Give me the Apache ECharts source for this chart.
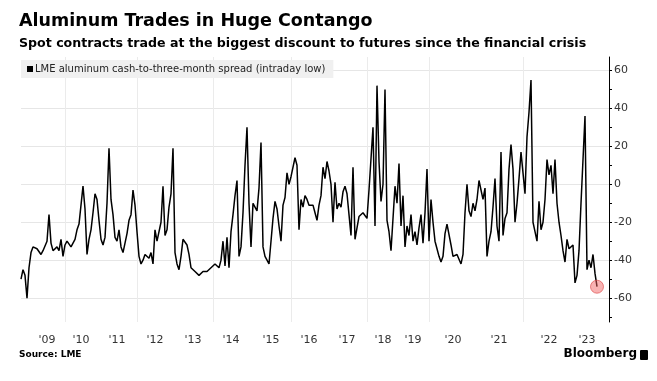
<!DOCTYPE html>
<html><head><meta charset="utf-8">
<script src="https://cdn.jsdelivr.net/npm/echarts@6/dist/echarts.min.js"></script>
<style>html,body{margin:0;padding:0;background:#fff}#c{width:657px;height:381px}</style>
</head><body><div id="c"></div>
<script>
const seriesName = 'LME aluminum cash-to-three-month spread (intraday low)';
const years = ['2008','2009','2010','2011','2012','2013','2014','2015','2016','2017','2018','2019','2020','2021','2022','2023'];
const yearLabels = ['', "'09", "'10", "'11", "'12", "'13", "'14", "'15", "'16", "'17", "'18", "'19", "'20", "'21", "'22", "'23"];
const gridYears = ['2010','2012','2014','2016','2018','2020','2022'];

const v2008 = [-50,-45,-48,-60,-44,-36];
const v2009 = [-33,-34,-34,-35,-37,-35,-34,-30,-16,-31,-35,-34,-33,-35,-29,-38];
const v2010 = [-32,-30,-31,-33,-31,-29,-24,-21,-11,-1,-13,-37,-29,-24,-15,-5,-8,-19];
const v2011 = [-29,-32,-28,-10,19,-8,-16,-28,-30,-24,-33,-36,-35,-26,-19,-16,-3,-11];
const v2012 = [-25,-38,-42,-40,-37,-38,-39,-36,-42,-24,-30,-29,-20,-1,-27,-24,-12,-5,19];
const v2013 = [-36,-42,-45,-38,-29,-28,-32,-37,-44,-45,-46,-47,-48,-47,-46,-46,-46,-45,-44];
const v2014 = [-43,-42,-43,-44,-40,-30,-43,-28,-44,-25,-16,-6,2,-38,-33,-15,10,30,-10,-33];
const v2015 = [-10,-12,-14,-2,22,-33,-38,-39,-42,-30,-18,-9,-13,-22,-30,-11,-7,6,0];
const v2016 = [4,5,14,10,-24,-8,-12,-6,-8,-11,-10,-11,-15,-19,-11,-6,9,3,12,7];
const v2017 = [0,-20,1,-13,-10,-12,-4,-1,-5,-16,-27,9,-29,-23,-17,-18,-15,-16];
const v2018 = [-18,-3,-4,30,-22,52,12,-9,0,50,-19,-25,-35,-18,-1,-10,11];
const v2019 = [-22,-6,-33,-22,-27,-16,-30,-25,-32,-23,-16,-31,-15,8];
const v2020 = [-30,-8,-20,-30,-34,-38,-41,-38,-26,-21,-20,-32,-38,-37,-37,-38,-42,-37,-15,0,-14,-17,-10,-14,-8];
const v2021 = [2,-3,-8,-2,-38,-30,-25,-12,3,-22,-30,17,-27,-18,-15,8,21,8,-20,-10,3,17];
const v2022 = [6,-5,25,38,55,-20,-25,-30,-9,-24,-20,-8,13,5,10,-5,13,-10,-20,-27,-35,-41,-29,-34,-33,-32,-52];
const v2023 = [-48,-35,-10,-10,36,-45,-40,-44,-37,-47,-54];
const yearValues = [v2008,v2009,v2010,v2011,v2012,v2013,v2014,v2015,v2016,v2017,v2018,v2019,v2020,v2021,v2022,v2023];

const yLabelValues = [-60,-40,-20,0,20,40,60];
const yTickValues = [-70,-60,-50,-40,-30,-20,-10,0,10,20,30,40,50,60];

const categories = [], values = [];
const labelAt = new Map(), gridAt = new Set();
years.forEach((y, yi) => {
  const arr = yearValues[yi];
  const start = values.length;
  arr.forEach((v, k) => { categories.push(y + '-' + k); values.push(v); });
  if (yearLabels[yi]) labelAt.set(start + Math.floor((arr.length - 1) / 2), yearLabels[yi]);
  if (gridYears.includes(y)) gridAt.add(start);
});
const lastIdx = values.length - 1;

const FONT = 'DejaVu Sans';
const chart = echarts.init(document.getElementById('c'), null, {renderer: 'canvas'});
chart.setOption({
  animation: false,
  backgroundColor: '#fff',
  textStyle: {fontFamily: FONT},
  title: [
    {text: 'Aluminum Trades in Huge Contango', left: 19, top: 12, padding: 0,
     textStyle: {fontFamily: FONT, fontSize: 17.5, fontWeight: 'bold', color: '#000'}},
    {text: 'Spot contracts trade at the biggest discount to futures since the financial crisis', left: 19, top: 37, padding: 0,
     textStyle: {fontFamily: FONT, fontSize: 12.6, fontWeight: 'bold', color: '#000'}},
    {text: 'Source: LME', left: 19, top: 350, padding: 0,
     textStyle: {fontFamily: FONT, fontSize: 9, fontWeight: 'bold', color: '#000'}}
  ],
  legend: {
    data: [seriesName], left: 21, top: 60, icon: 'rect', itemWidth: 6, itemHeight: 6,
    padding: [4, 8, 4, 6], backgroundColor: '#f0f0f0', selectedMode: false,
    textStyle: {fontFamily: FONT, fontSize: 10, color: '#222', padding: [0, 0, 0, -3]}
  },
  grid: {left: 21, right: 48, top: 57, bottom: 59},
  xAxis: {
    type: 'category', data: categories, boundaryGap: false, max: lastIdx + 6,
    axisLine: {show: false}, axisTick: {show: false},
    axisLabel: {interval: (i) => labelAt.has(i), formatter: (val, i) => labelAt.get(i) || '',
      margin: 13, fontSize: 11, color: '#333', fontFamily: FONT},
    splitLine: {show: true, interval: (i) => gridAt.has(i), lineStyle: {color: '#ebebeb', width: 1}}
  },
  yAxis: {
    type: 'value', position: 'right', min: -72.6, max: 67.1, minInterval: 20, maxInterval: 20,
    axisLine: {show: true, lineStyle: {color: '#000', width: 1}},
    axisTick: {show: true, customValues: yTickValues, length: 3, lineStyle: {color: '#000'}},
    axisLabel: {customValues: yLabelValues, fontSize: 11, color: '#333', margin: 5, fontFamily: FONT},
    splitLine: {show: true, lineStyle: {color: ['rgba(0,0,0,0)', '#e6e6e6'], width: 1}}
  },
  series: [
    {name: seriesName, type: 'line', data: values, symbol: 'none', color: '#000',
     lineStyle: {color: '#000', width: 1.5}, z: 3},
    {type: 'scatter', data: [[lastIdx, values[lastIdx]]], symbolSize: 13, z: 4,
     itemStyle: {color: 'rgba(240,95,95,0.6)', borderColor: 'rgba(220,70,70,0.8)', borderWidth: 1}}
  ],
  graphic: [
    {type: 'text', right: 20, top: 348, style: {text: 'Bloomberg', font: 'bold 12px "DejaVu Sans"', fill: '#000'}},
    {type: 'rect', left: 640, top: 350, shape: {x: 0, y: 0, width: 8, height: 10, r: 1}, style: {fill: '#000'}}
  ]
});
</script></body></html>
